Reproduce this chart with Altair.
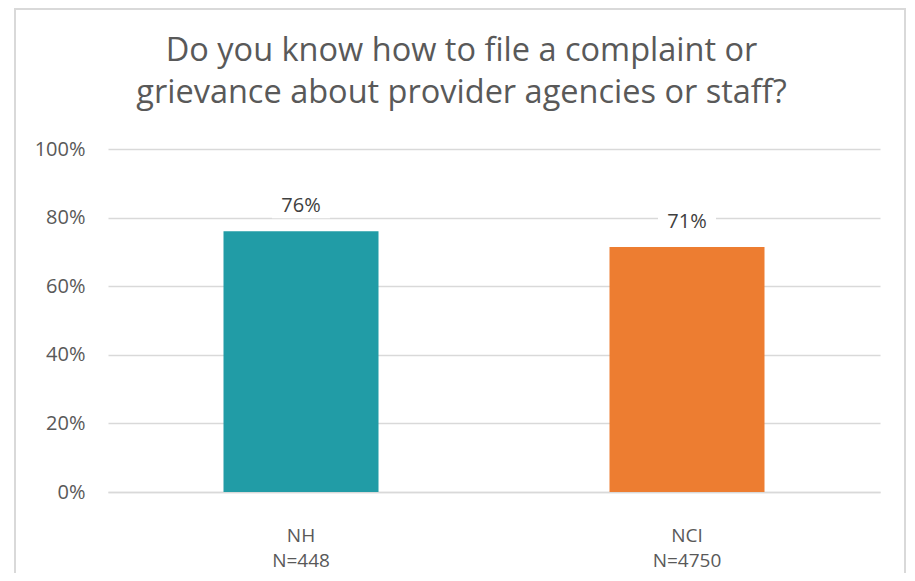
import altair as alt
import pandas as pd

groups = ["NH", "NCI"]
sample_sizes = ["N=448", "N=4750"]
values = [0.76, 0.714]
colors = ["#219CA6", "#ED7D31"]
title_lines = ["Do you know how to file a complaint or",
               "grievance about provider agencies or staff?"]

df = pd.DataFrame({
    "group": [f"{g}|{n}" for g, n in zip(groups, sample_sizes)],
    "value": values,
    "color": colors,
})
one = pd.DataFrame({"a": [0]})

W, H = 772, 343
x_enc = alt.X("group:N", sort=None,
              scale=alt.Scale(paddingInner=0, paddingOuter=0),
              axis=alt.Axis(title=None, labelAngle=0, labelExpr="split(datum.label, '|')",
                            labelFont="Open Sans", labelFontSize=19, labelColor="#595959",
                            labelLineHeight=25, labelBaseline="top", labelPadding=34,
                            ticks=False, domainColor="#D9D9D9", domainWidth=1.5))
y_enc = alt.Y("value:Q",
              scale=alt.Scale(domain=[0, 1]),
              axis=alt.Axis(title=None, format=".0%", values=[0, 0.2, 0.4, 0.6, 0.8, 1.0],
                            labelFont="Open Sans", labelFontSize=20, labelColor="#595959",
                            labelPadding=23, ticks=False, domain=False,
                            gridColor="#D9D9D9", gridWidth=1.5))

base = alt.Chart(df)
bars = base.mark_bar(size=155).encode(
    x=x_enc, y=y_enc,
    color=alt.Color("color:N", scale=None),
)
label_bg = base.mark_tick(color="white", opacity=1, size=58, thickness=26).encode(
    x=alt.X("group:N", sort=None), y="value:Q", yOffset=alt.value(-26),
)
labels = base.mark_text(dy=-25, baseline="middle", font="Open Sans", fontSize=20,
                        color="#404040").encode(
    x=alt.X("group:N", sort=None), y="value:Q",
    text=alt.Text("value:Q", format=".0%"),
)
border = alt.Chart(one).mark_rect(fillOpacity=0, stroke="#D9D9D9", strokeWidth=2).encode(
    x=alt.value(-93), x2=alt.value(797), y=alt.value(-140), y2=alt.value(440),
)
title = alt.Chart(one).mark_text(text=title_lines, font="Open Sans", fontSize=32.5,
                                 color="#595959", align="center", baseline="alphabetic",
                                 lineHeight=42).encode(
    x=alt.value(353.5), y=alt.value(-88),
)

chart = alt.layer(border, bars, label_bg, labels, title).properties(
    width=W, height=H,
    autosize=alt.AutoSizeParams(type="none"),
    padding={"left": 100, "top": 141, "right": 27, "bottom": 81},
).configure_view(stroke=None)

chart.save("out.html", embed_options={"renderer": "svg", "actions": False})
